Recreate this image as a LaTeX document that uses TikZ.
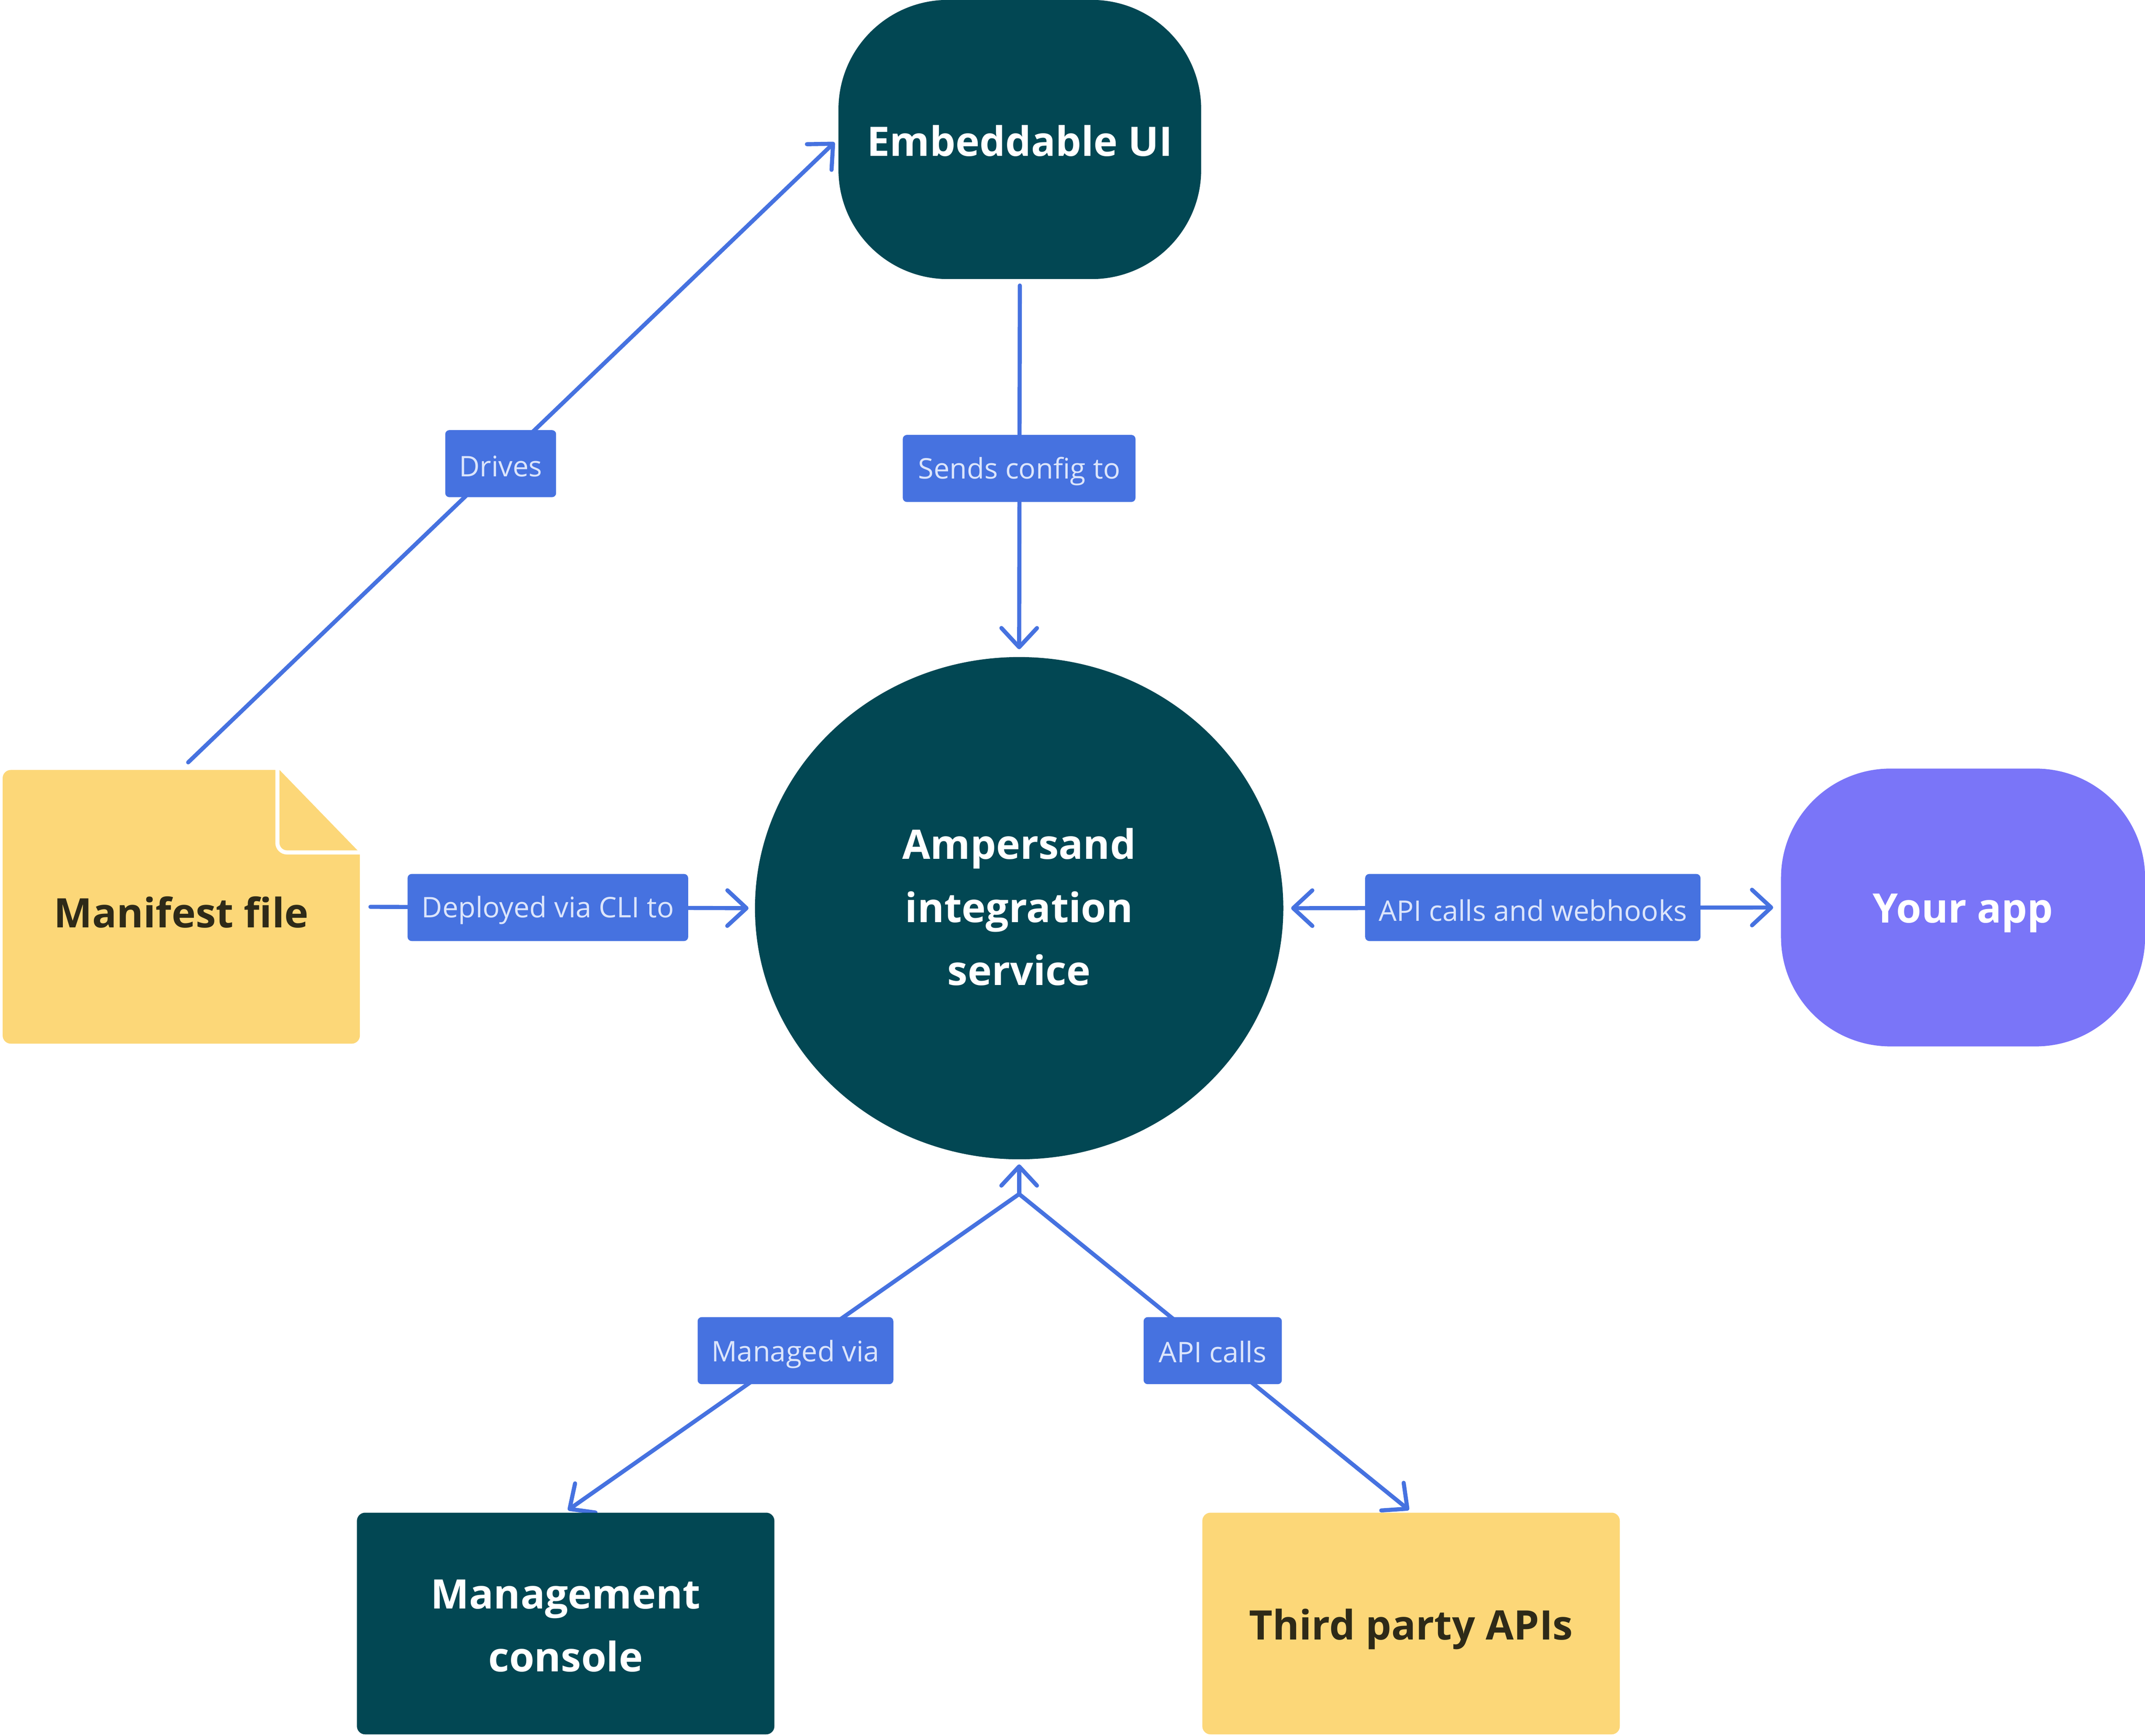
\documentclass[tikz,border=0pt]{standalone}
\usepackage{fontspec}
\setmainfont{Open Sans}
\usetikzlibrary{arrows.meta,shapes.geometric,backgrounds,calc}
\definecolor{tealdark}{HTML}{024753}
\definecolor{yellowbox}{HTML}{FCD778}
\definecolor{purplebox}{HTML}{7A75F8}
\definecolor{bluelink}{HTML}{4672E0}
\definecolor{labeltext}{HTML}{DCE5FB}
\definecolor{darktext}{HTML}{2E2A18}
\newcommand{\lowered}[2][0.04cm]{\raisebox{-#1}[\height][\depth]{#2}}
\tikzset{
  titlefont/.style={font=\fontsize{8.45}{13.1}\selectfont\bfseries},
  darkbox/.style={titlefont, fill=tealdark, text=white, align=center, inner sep=0pt},
  yellbox/.style={titlefont, fill=yellowbox, text=darktext, align=center, inner sep=0pt},
  lbl/.style={font=\fontsize{5.9}{7}\selectfont, fill=bluelink, text=labeltext, rounded corners=0.03cm, minimum height=0.49cm, inner sep=0pt},
  arr/.style={draw=bluelink, line width=0.03cm, line cap=round, line join=round, -{Straight Barb[length=1.4mm,width=2.6mm,round]}},
}
\begin{document}
\begin{tikzpicture}[x=0.01cm,y=-0.01cm]
\useasboundingbox (0,0) rectangle (1568,1269.2);
% main nodes
\node[darkbox, minimum width=2.65cm, minimum height=2.04cm, rounded corners=0.8cm] (eui) at (745.5,102) {\lowered[0.01cm]{Embeddable UI}};
\node[darkbox, ellipse, minimum width=3.86cm, minimum height=3.67cm] (amp) at (745,664) {\lowered[0.01cm]{\begin{tabular}{@{}c@{}}Ampersand\\integration\\service\end{tabular}}};
\node[titlefont, fill=purplebox, text=white, inner sep=0pt, minimum width=2.66cm, minimum height=2.03cm, rounded corners=0.8cm] (app) at (1435,663.5) {\lowered{Your app}};
\node[yellbox, minimum width=2.61cm, minimum height=2.00cm, rounded corners=0.06cm] (mf) at (132.5,663) {\lowered{Manifest file}};
\node[darkbox, minimum width=3.05cm, minimum height=1.62cm, rounded corners=0.06cm] (mc) at (413.5,1187) {\lowered[0.03cm]{\begin{tabular}{@{}c@{}}Management\\console\end{tabular}}};
\node[yellbox, minimum width=3.05cm, minimum height=1.62cm, rounded corners=0.06cm] (tp) at (1031.5,1187) {\lowered{Third party APIs}};
% folded corner of the manifest file
\fill[white] ($(mf.north east)+(-62,-2)$) -- ($(mf.north east)+(2,-2)$) -- ($(mf.north east)+(2,64)$) -- cycle;
\draw[white, line width=0.03cm] ($(mf.north east)+(-61,-2)$) -- ($(mf.north east)+(-61,54)$) arc[start angle=180, end angle=270, radius=0.07cm] -- ($(mf.north east)+(2,61)$);
% labels
\node[lbl, minimum width=0.81cm] (ldrives) at (366,339) {\lowered[0.02cm]{Drives}};
\node[lbl, minimum width=1.70cm] (lsends) at (745,342.5) {\lowered[0.02cm]{Sends config to}};
\node[lbl, minimum width=2.05cm] (ldeploy) at (400.5,663.5) {\lowered[0.02cm]{Deployed via CLI to}};
\node[lbl, minimum width=2.45cm] (lapiweb) at (1120.5,663.5) {\lowered[0.02cm]{API calls and webhooks}};
\node[lbl, minimum width=1.43cm] (lmanaged) at (581.5,987.5) {\lowered[0.025cm]{Managed via}};
\node[lbl, minimum width=1.01cm] (lapi) at (886.5,987.5) {\lowered[0.01cm]{API calls}};
\coordinate (apex) at (745,873);
% connectors
\begin{pgfonlayer}{background}
\draw[arr, shorten <=0.07cm, shorten >=0.03cm] (mf.north) -- (eui.west);
\draw[arr, shorten <=0.04cm, shorten >=0.05cm] (eui.south) -- (amp.north);
\draw[arr, shorten <=0.07cm, shorten >=0.04cm] (mf.east) -- (amp.west);
\draw[arr, {Straight Barb[length=1.4mm,width=2.6mm,round]}-{Straight Barb[length=1.4mm,width=2.6mm,round]}, shorten <=0.05cm, shorten >=0.05cm] (amp.east) -- (app.west);
\draw[arr, shorten >=0.03cm] (apex) -- (amp.south);
\draw[arr, shorten >=0.02cm] (apex) -- (mc.north);
\draw[arr, shorten >=0.02cm] (apex) -- (tp.north);
\end{pgfonlayer}
\end{tikzpicture}
\end{document}
